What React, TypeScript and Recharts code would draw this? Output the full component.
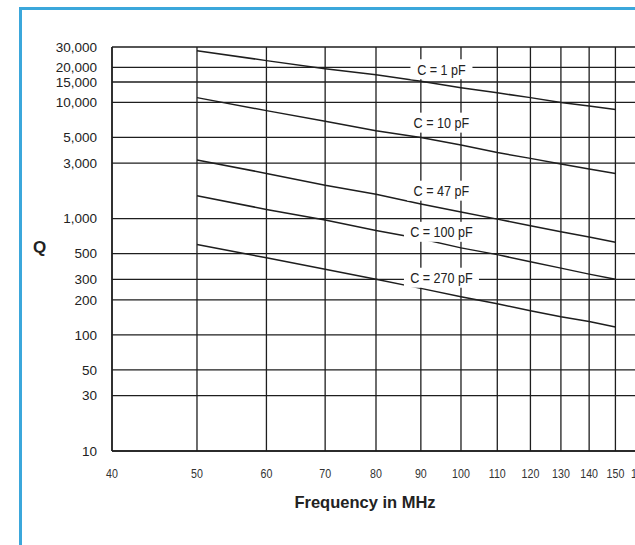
import React from 'react';
import { LineChart, Line, XAxis, YAxis, CartesianGrid, ReferenceDot } from 'recharts';

const freqs = [50, 60, 70, 80, 90, 100, 110, 120, 130, 140, 150];
const q1pF = [27900, 22900, 19500, 17300, 15200, 13400, 12100, 11000, 10000, 9300, 8700];
const q10pF = [11000, 8500, 6900, 5700, 5000, 4300, 3700, 3300, 2950, 2670, 2450];
const q47pF = [3200, 2450, 1935, 1620, 1336, 1140, 990, 870, 770, 695, 625];
const q100pF = [1575, 1200, 975, 790, 670, 560, 490, 425, 375, 333, 301];
const q270pF = [600, 460, 367, 301, 251, 213, 185, 161, 143, 130, 117];

const xTicks = [40, 50, 60, 70, 80, 90, 100, 110, 120, 130, 140, 150, 160];
const yTicks = [10, 30, 50, 100, 200, 300, 500, 1000, 3000, 5000, 10000, 15000, 20000, 30000];

const seriesKeys = ['c1', 'c10', 'c47', 'c100', 'c270'];
const seriesLabels = ['C = 1 pF', 'C = 10 pF', 'C = 47 pF', 'C = 100 pF', 'C = 270 pF'];
const labelFreq = 95;
const labelQ = [19300, 6700, 1740, 770, 310];

const data = freqs.map((f, i) => ({
  freq: f,
  c1: q1pF[i],
  c10: q10pF[i],
  c47: q47pF[i],
  c100: q100pF[i],
  c270: q270pF[i],
}));

const INK = '#1e1e1e';
const FONT = 'Arial, "Liberation Sans", sans-serif';

const fmt = (v: number) => v.toLocaleString('en-US');

// narrow-looking text: squeeze a normal sans horizontally
const LabelBox = (text: string) => (props: any) => {
  const { cx, cy } = props;
  const w = text.length * 6.5 + 10;
  return (
    <g>
      <rect x={cx - w / 2} y={cy - 10} width={w} height={20} fill="#fff" />
      <text
        transform={`translate(${cx},${cy}) scale(0.84,1)`}
        textAnchor="middle"
        dominantBaseline="central"
        fontSize={15}
        fill="#222"
        style={{ fontFamily: FONT }}
      >
        {text}
      </text>
    </g>
  );
};

const XTick = (props: any) => {
  const { x, y, payload } = props;
  return (
    <text
      transform={`translate(${x},${y}) scale(0.82,1)`}
      textAnchor="middle"
      dominantBaseline="central"
      fontSize={13}
      fill="#333"
      style={{ fontFamily: FONT }}
    >
      {payload.value}
    </text>
  );
};

export default function App() {
  return (
    <div style={{ position: 'fixed', left: 0, top: 0, width: 635, height: 545, overflow: 'hidden', background: '#fff' }}>
      <div
        style={{
          position: 'absolute',
          left: 19,
          top: 7,
          width: 800,
          height: 800,
          borderLeft: '3px solid #3ba7db',
          borderTop: '3px solid #3ba7db',
        }}
      />
      <div style={{ position: 'absolute', left: 0, top: 0 }}>
        <LineChart
          width={700}
          height={545}
          data={data}
          margin={{ top: 47, right: 60, bottom: 64, left: 0 }}
        >
          <CartesianGrid stroke={INK} strokeWidth={1.3} />
          <XAxis
            dataKey="freq"
            type="number"
            scale="log"
            domain={[40, 160]}
            ticks={xTicks}
            allowDataOverflow
            height={30}
            tickSize={0}
            tickMargin={23}
            axisLine={{ stroke: INK, strokeWidth: 1.5 }}
            tickLine={false}
            interval={0}
            tick={XTick}
          />
          <YAxis
            type="number"
            scale="log"
            domain={[10, 30000]}
            ticks={yTicks}
            allowDataOverflow
            width={112}
            tickSize={0}
            tickMargin={15}
            interval={0}
            tickFormatter={fmt}
            axisLine={{ stroke: INK, strokeWidth: 1.5 }}
            tickLine={false}
            tick={{ fontSize: 13.5, fill: '#222', fontFamily: FONT }}
          />
          {seriesKeys.map((k) => (
            <Line
              key={k}
              dataKey={k}
              type="linear"
              stroke={INK}
              strokeWidth={1.5}
              dot={false}
              isAnimationActive={false}
            />
          ))}
          {seriesLabels.map((t, i) => (
            <ReferenceDot key={t} x={labelFreq} y={labelQ[i]} r={0} shape={LabelBox(t)} />
          ))}
        </LineChart>
      </div>
      <div
        style={{
          position: 'absolute',
          left: 33,
          top: 238,
          fontFamily: FONT,
          fontWeight: 'bold',
          fontSize: 17,
          color: '#222',
        }}
      >
        Q
      </div>
      <div
        style={{
          position: 'absolute',
          left: 215,
          width: 300,
          textAlign: 'center',
          top: 493,
          fontFamily: FONT,
          fontWeight: 'bold',
          fontSize: 16.5,
          color: '#222',
        }}
      >
        Frequency in MHz
      </div>
    </div>
  );
}
